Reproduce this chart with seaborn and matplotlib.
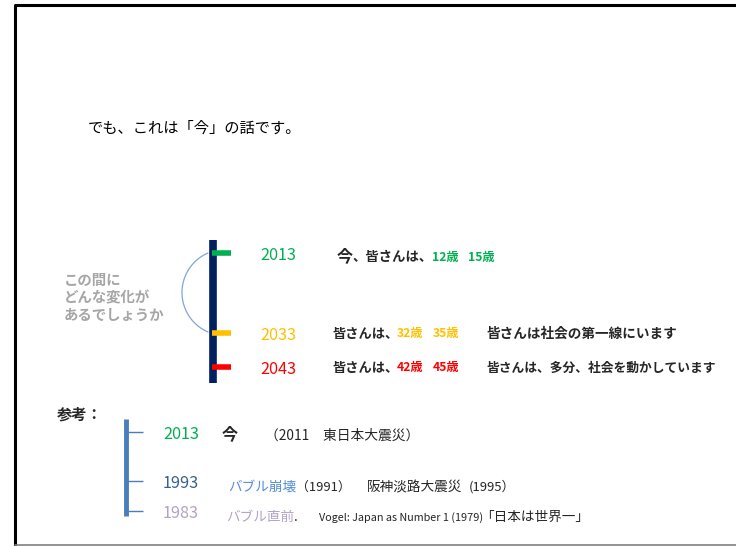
import numpy as np
import pandas as pd
import matplotlib
matplotlib.use("Agg")
import matplotlib.pyplot as plt
import seaborn as sns

sns.set_theme(style="white")
plt.rcParams["font.family"] = ["Noto Sans CJK JP", "DejaVu Sans"]

# ---- data ----
title = "でも、これは「今」の話です。"
question_lines = ["この間に", "どんな変化が", "あるでしょうか"]

future_years = [2013, 2033, 2043]
future_colors = ["#00B050", "#FFC000", "#FF0000"]
future_ages = [("12歳", "15歳"), ("32歳", "35歳"), ("42歳", "45歳")]
future_notes = ["", "皆さんは社会の第一線にいます", "皆さんは、多分、社会を動かしています"]

ref_years = [2013, 1993, 1983]
ref_colors = ["#00B050", "#366092", "#B3A2C7"]

# ---- layout (pixel coordinates) ----
W, H = 736, 546
fig = plt.figure(figsize=(W / 100, H / 100), dpi=100)
ax = fig.add_axes([0, 0, 1, 1])
ax.set_xlim(0, W)
ax.set_ylim(H, 0)
ax.axis("off")

# frame
ax.plot([15, 15, W], [H, 5, 5], color="black", lw=2.2, solid_capstyle="butt")
ax.plot([15, W], [544.5, 544.5], color="#808080", lw=1.2)

ax.text(88, 128, title, fontsize=11, va="center", ha="left", color="black")

# timeline (future)
fut = pd.DataFrame({"year": future_years, "ypos": [253, 333, 367], "color": future_colors})
ax.plot([212.5, 212.5], [240, 383], color="#002060", lw=5.5, solid_capstyle="butt")
for _, r in fut.iterrows():
    ax.hlines(r.ypos, 212, 231, color=r.color, lw=4)
    ax.text(260, r.ypos + 2, str(r.year), color=r.color, fontsize=11.7, va="center", ha="left")

# arc bulging to the left of the bar
cx, cy, rad = 225, 292.5, 43
a0 = np.arctan2(253 - cy, 208 - cx) + 2 * np.pi
a1 = np.arctan2(332 - cy, 208 - cx)
tt = np.linspace(a1, a0, 100)
ax.plot(cx + rad * np.cos(tt), cy + rad * np.sin(tt), color="#7FA6DA", lw=0.9)

for i, line in enumerate(question_lines):
    ax.text(64, 281 + i * 17.5, line, color="#A6A6A6", fontsize=10.4, fontweight="bold",
            va="center", ha="left")

# row texts
ax.text(337, 256, "今", fontsize=11.5, fontweight="bold", va="center", ha="left")
ax.text(352, 257, "、皆さんは、", fontsize=9.6, fontweight="bold", va="center", ha="left")
ax.text(432, 257, future_ages[0][0], color=future_colors[0], fontsize=8.8, fontweight="bold", va="center", ha="left")
ax.text(468, 257, future_ages[0][1], color=future_colors[0], fontsize=8.8, fontweight="bold", va="center", ha="left")

note_sizes = [None, 9.8, 9.2]
for i, yy in zip([1, 2], [334, 368]):
    ax.text(333, yy, "皆さんは、", fontsize=9.5, fontweight="bold", va="center", ha="left")
    ax.text(397, yy, future_ages[i][0], color=future_colors[i], fontsize=8.8, fontweight="bold", va="center", ha="left")
    ax.text(433, yy, future_ages[i][1], color=future_colors[i], fontsize=8.8, fontweight="bold", va="center", ha="left")
    ax.text(486, yy, future_notes[i], fontsize=note_sizes[i], fontweight="bold", va="center", ha="left")

# reference section
ax.text(57, 415, "参考：", fontsize=11, fontweight="bold", va="center", ha="left")
ref = pd.DataFrame({"year": ref_years, "ypos": [432, 481, 511], "color": ref_colors})
ax.plot([126, 126], [419, 516], color="#4A7EBB", lw=3.5, solid_capstyle="butt")
for _, r in ref.iterrows():
    ax.hlines(r.ypos, 126, 143, color="#4A7EBB", lw=1)
    ax.text(163, r.ypos + 2.5, str(r.year), color=r.color, fontsize=11.7, va="center", ha="left")

ax.text(222, 434, "今", fontsize=11.5, fontweight="bold", va="center", ha="left")
ax.text(265, 436, "（2011　東日本大震災）", fontsize=9.9, va="center", ha="left")

ax.text(228, 487, "バブル崩壊", color="#558ED5", fontsize=9.8, va="center", ha="left")
ax.text(296, 487, "（1991）", fontsize=9.3, va="center", ha="left")
ax.text(367, 487, "阪神淡路大震災", fontsize=9.8, va="center", ha="left")
ax.text(469, 487, "(1995）", fontsize=9.4, va="center", ha="left")

ax.text(226, 517, "バブル直前", color="#B3A2C7", fontsize=9.8, va="center", ha="left")
ax.text(294, 517, ".", fontsize=9.8, va="center", ha="left")
ax.text(319, 518, "Vogel: Japan as Number 1 (1979)", fontsize=7.8, va="center", ha="left")
ax.text(480, 517, "「日本は世界一」", fontsize=9.8, va="center", ha="left")

fig.savefig("out.png", dpi=100)
